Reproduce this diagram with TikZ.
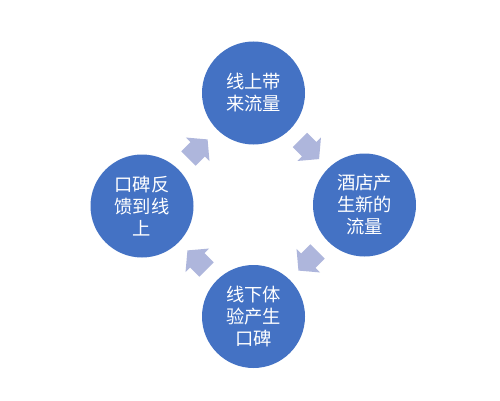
\documentclass[tikz,border=0pt]{standalone}
\usepackage{fontspec}
\newfontfamily\cjk{Noto Sans CJK SC}
\usetikzlibrary{shapes.arrows}
\definecolor{circblue}{HTML}{4472C4}
\definecolor{arrowlav}{HTML}{AEB6DC}
\tikzset{
  bubble/.style={circle, fill=circblue, draw=none, minimum size=103pt, inner sep=0pt,
    text=white, align=center, font=\cjk\fontsize{18.3pt}{22pt}\selectfont},
  blockarrow/.style={single arrow, fill=arrowlav, draw=none, inner xsep=0pt, inner ysep=10pt,
    minimum height=27pt, single arrow head extend=6.5pt, single arrow tip angle=100}
}
\begin{document}
\begin{tikzpicture}[x=1pt,y=1pt]
\useasboundingbox (0,0) rectangle (500,-401);
\fill[white] (0,0) rectangle (500,-401);
\node[bubble] (top) at (253.5,-93) {线上带\\来流量};
\node[bubble] (right) at (364.5,-205) {酒店产\\生新的\\流量};
\node[bubble] (bottom) at (253.5,-316.5) {线下体\\验产生\\口碑};
\node[bubble] (left) at (142,-206) {口碑反\\馈到线\\上};
\node[blockarrow, rotate=-45] (a1) at (306.5,-146.5) {};
\node[blockarrow, rotate=-135] (a2) at (311,-258) {};
\node[blockarrow, rotate=135] (a3) at (200,-263) {};
\node[blockarrow, rotate=45] (a4) at (195,-152) {};
\end{tikzpicture}
\end{document}
